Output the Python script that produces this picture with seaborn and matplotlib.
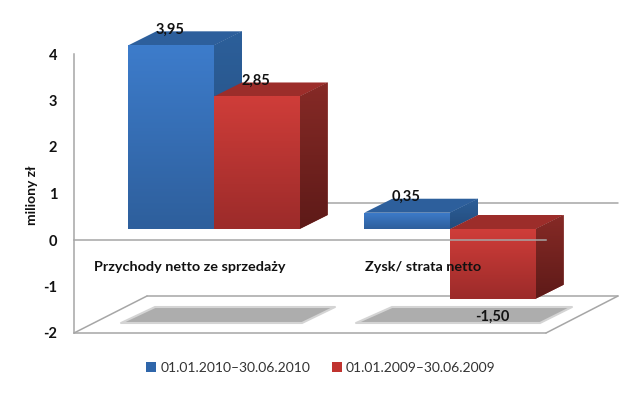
import numpy as np
import pandas as pd
import matplotlib
matplotlib.use("Agg")
import matplotlib.pyplot as plt
import seaborn as sns
from matplotlib.colors import LinearSegmentedColormap
from matplotlib.lines import Line2D
from matplotlib.patches import Patch, Polygon

# ================= data =================
categories = ["Przychody netto ze sprzedaży", "Zysk/ strata netto"]
period_2010 = [3.95, 0.35]
period_2009 = [2.85, -1.50]
labels_2010 = ["3,95", "0,35"]
labels_2009 = ["2,85", "-1,50"]
series_names = ["01.01.2010–30.06.2010", "01.01.2009–30.06.2009"]
y_ticks = [-2, -1, 0, 1, 2, 3, 4]

W, H = 640, 396
FONT = ["Lato", "DejaVu Sans"]
GRAY = "#a6a6a6"
TEXT = "#111111"

sns.set_style("white")
plt.rcParams["font.family"] = FONT

df = pd.DataFrame({
    "cat": categories * 2,
    "period": [series_names[0]] * 2 + [series_names[1]] * 2,
    "value": period_2010 + period_2009,
})

# colours: front top, front bottom, top face, side top, side bottom
blue = ["#3d7ccb", "#2e5f9c", "#2d5f9c", "#2c5f9a", "#244c7c"]
red = ["#cf3d39", "#9c2b2a", "#9c2d2a", "#862a26", "#5e1a18"]
palette = {series_names[0]: "#2f66aa", series_names[1]: "#c0332f"}


def box(px_left, px_top, px_right, px_bottom):
    return [px_left / W, 1 - px_bottom / H, (px_right - px_left) / W, (px_bottom - px_top) / H]


def fx(x):
    return x / W


def fy(y):
    return 1 - y / H


fig = plt.figure(figsize=(W / 100, H / 100), dpi=100)

# floor and back wall, behind the bars
floor_lines = [
    ((147, 618), (203, 203)),
    ((147, 618), (296, 296)),
    ((74, 546), (333, 333)),
    ((74, 147), (333, 296)),
    ((546, 618), (333, 296)),
]
for xs, ys in floor_lines:
    fig.add_artist(Line2D([fx(x) for x in xs], [fy(y) for y in ys], color=GRAY, lw=1.1, zorder=1))

# shadows on the floor
for pts in ([(121, 323), (155, 307), (335, 307), (302, 323)],
            [(356, 323), (392, 307), (572, 307), (540, 323)]):
    poly = [(fx(x), fy(y)) for x, y in pts]
    fig.add_artist(Polygon(poly, closed=True, transform=fig.transFigure, facecolor="#adadad",
                           edgecolor="#d4d4d4", lw=1.5, joinstyle="round", zorder=1))

# bars sit on a plane shifted into the depth of the chart
# one unit of headroom above 4 so the top faces are not cut off
bar_ax = fig.add_axes(box(96, 43 - 46.5, 568, 322), zorder=3)
bar_ax.patch.set_alpha(0)
sns.barplot(data=df, x="cat", y="value", hue="period", order=categories, hue_order=series_names,
            palette=palette, width=0.726, gap=0, saturation=1, legend=False, linewidth=0, ax=bar_ax)
bar_ax.axis("off")

# depth of the 3D boxes, in data units of this axes
dx = 28 / 236
dy = 14 / 46.5
bar_labels = [labels_2010, labels_2009]

for i, (container, cols) in enumerate(zip(bar_ax.containers, (blue, red))):
    for j, bar in enumerate(container):
        x0, x1 = bar.get_x(), bar.get_x() + bar.get_width()
        y0 = min(bar.get_y(), bar.get_y() + bar.get_height())
        y1 = max(bar.get_y(), bar.get_y() + bar.get_height())
        z = 3 + i * 4

        bar_ax.add_patch(Polygon([(x0, y1), (x0 + dx, y1 + dy), (x1 + dx, y1 + dy), (x1, y1)],
                                 closed=True, facecolor=cols[2], edgecolor="none", zorder=z))
        side = Polygon([(x1, y0), (x1, y1), (x1 + dx, y1 + dy), (x1 + dx, y0 + dy)],
                       closed=True, facecolor=cols[3], edgecolor="none", zorder=z)
        bar_ax.add_patch(side)
        cmap_side = LinearSegmentedColormap.from_list("s", [cols[3], cols[4]])
        img = bar_ax.imshow(np.linspace(0, 1, 64)[:, None], cmap=cmap_side, aspect="auto",
                            extent=(x1, x1 + dx, y0, y1 + dy), zorder=z + 1)
        img.set_clip_path(side)

        bar.set_zorder(z + 2)
        cmap_front = LinearSegmentedColormap.from_list("f", [cols[0], cols[1]])
        img = bar_ax.imshow(np.linspace(0, 1, 64)[:, None], cmap=cmap_front, aspect="auto",
                            extent=(x0, x1, y0, y1), zorder=z + 2.5)
        img.set_clip_path(bar)

        value = bar.get_y() + bar.get_height()
        off = -18 if value < 0 else 16
        bar_ax.annotate(bar_labels[i][j], ((x0 + x1) / 2, value), xytext=(-1, off),
                        textcoords="offset pixels", ha="center", va="center", fontsize=10.5,
                        fontweight="bold", color=TEXT, zorder=20, annotation_clip=False)
bar_ax.set_xlim(-0.5, 1.5)
bar_ax.set_ylim(-2, 5)

# front axes with the scale, zero line over the bars
ax = fig.add_axes(box(74, 54, 546, 333), zorder=4)
ax.patch.set_alpha(0)
# moving the spine resets the ticks, so do it before the labels are styled
ax.spines["bottom"].set_position(("data", 0))
ax.set_xlim(-0.5, 1.5)
ax.set_ylim(-2, 4)
ax.set_yticks(y_ticks)
ax.set_yticklabels([str(t) for t in y_ticks], fontsize=10.5, fontweight="bold", color=TEXT)
ax.set_xticks([-0.01, 0.98])
ax.set_xticklabels(categories, fontsize=10.4, fontweight="bold", color=TEXT)
ax.tick_params(axis="x", length=0, pad=15)
ax.tick_params(axis="y", length=0, pad=12)
for side_name in ("top", "right"):
    ax.spines[side_name].set_visible(False)
ax.spines["bottom"].set_color(GRAY)
ax.spines["left"].set_color(GRAY)
ax.spines["bottom"].set_linewidth(1.1)
ax.spines["left"].set_linewidth(1.1)
ax.set_ylabel("miliony zł", fontsize=10, fontweight="bold", color=TEXT)
ax.yaxis.set_label_coords(-36 / 472, 0.495)

handles = [Patch(facecolor=palette[name], edgecolor="none") for name in series_names]
fig.legend(handles, series_names, loc="center", bbox_to_anchor=(fx(321), fy(368)), ncol=2, frameon=False,
           fontsize=10, handlelength=0.7, handleheight=0.7, handletextpad=0.3, columnspacing=1.6,
           labelcolor="#333333")

fig.savefig("out.png", dpi=100)
